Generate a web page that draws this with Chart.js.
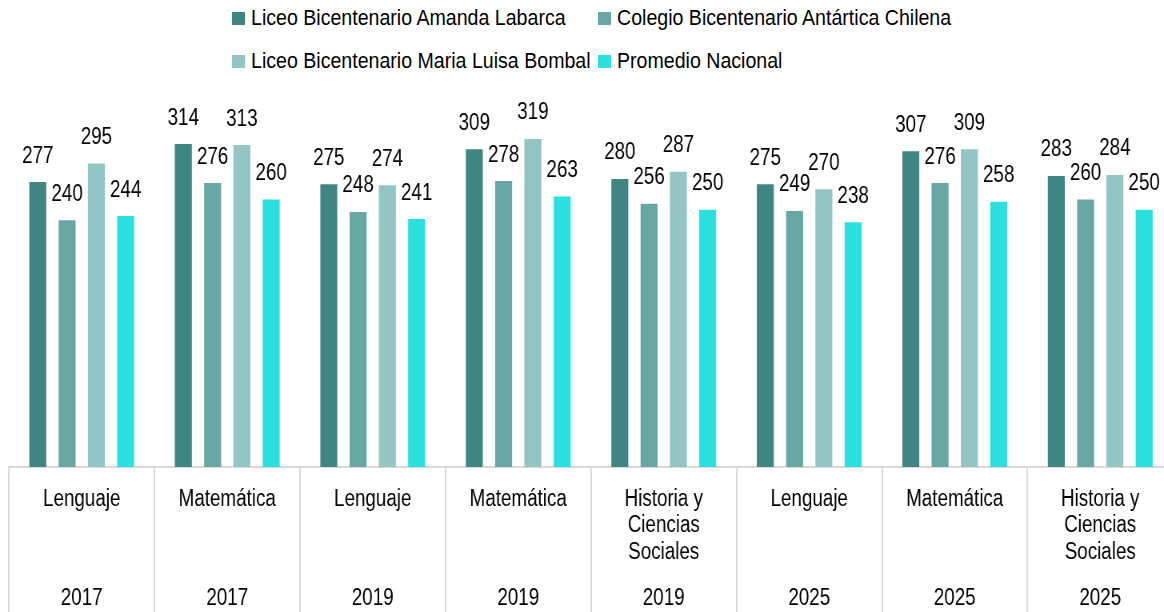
<!DOCTYPE html>
<html>
<head>
<meta charset="utf-8">
<script src="https://cdn.jsdelivr.net/npm/chart.js@4.4.1/dist/chart.umd.min.js"></script>
<style>
  body { margin: 0; background: #fff; overflow: hidden; width: 1164px; height: 612px; position: relative; }
  /* the reference uses a narrow face; squeeze the whole canvas horizontally instead */
  canvas { position: absolute; left: 0; top: 0; transform: scaleX(0.8); transform-origin: 0 0; }
  #legend { position: absolute; left: 232px; top: 0; font-family: 'Liberation Sans', Arial, sans-serif; font-size: 22px; color: #000; }
  .item { position: absolute; white-space: nowrap; display: flex; align-items: center; height: 30px; }
  .box { width: 13px; height: 13px; margin-right: 6px; flex: none; }
  .txt { display: inline-block; transform: scaleX(0.89); transform-origin: 0 50%; }
</style>
</head>
<body>
<div id="legend"></div>
<canvas id="chart" width="1470" height="612"></canvas>
<script>
// Categories (two-level x axis)
const subjects = [
    'Lenguaje',
    'Matemática',
    'Lenguaje',
    'Matemática',
    ['Historia y', 'Ciencias', 'Sociales'],
    'Lenguaje',
    'Matemática',
    ['Historia y', 'Ciencias', 'Sociales']
];
const years = ['2017', '2017', '2019', '2019', '2019', '2025', '2025', '2025'];

// Series
const seriesNames = [
    'Liceo Bicentenario Amanda Labarca',
    'Colegio Bicentenario Antártica Chilena',
    'Liceo Bicentenario Maria Luisa Bombal',
    'Promedio Nacional'
];
const amandaLabarca = [277, 314, 275, 309, 280, 275, 307, 283];
const antarticaChilena = [240, 276, 248, 278, 256, 249, 276, 260];
const mariaLuisaBombal = [295, 313, 274, 319, 287, 270, 309, 284];
const promedioNacional = [244, 260, 241, 263, 250, 238, 258, 250];

const seriesColors = ['#3f8682', '#68a7a4', '#92c5c3', '#2be1df'];

const fontFamily = "'Liberation Sans', Arial, sans-serif";
const fontSize = 23.5;

// Value labels above bars
const valueLabels = {
    id: 'valueLabels',
    afterDatasetsDraw(chart) {
        const ctx = chart.ctx;
        ctx.save();
        ctx.font = fontSize + 'px ' + fontFamily;
        ctx.fillStyle = '#000';
        ctx.textAlign = 'center';
        ctx.textBaseline = 'middle';
        chart.data.datasets.forEach((ds, i) => {
            chart.getDatasetMeta(i).data.forEach((bar, j) => {
                ctx.fillText(ds.data[j], bar.x, bar.y - 26);
            });
        });
        ctx.restore();
    }
};

const allSeries = [amandaLabarca, antarticaChilena, mariaLuisaBombal, promedioNacional];

const chart = new Chart(document.getElementById('chart'), {
    type: 'bar',
    data: {
        labels: subjects,
        datasets: allSeries.map((values, i) => ({
            label: seriesNames[i],
            data: values,
            backgroundColor: seriesColors[i],
            categoryPercentage: 0.805,
            barPercentage: 0.58
        }))
    },
    options: {
        responsive: false,
        animation: false,
        devicePixelRatio: 1,
        layout: { padding: { top: 107, left: 11.25, right: 3.75, bottom: 0 } },
        plugins: {
            legend: { display: false },
            tooltip: { enabled: false }
        },
        scales: {
            y: { display: false, min: 0, max: 350 },
            x: {
                position: 'bottom',
                grid: { offset: true, drawOnChartArea: false, drawTicks: true, tickLength: 150, color: '#d9d9d9', lineWidth: 2 },
                border: { display: true, color: '#d9d9d9', width: 2 },
                ticks: {
                    padding: -131,
                    color: '#000',
                    maxRotation: 0,
                    autoSkip: false,
                    font: { family: fontFamily, size: fontSize, lineHeight: 1.13 }
                },
                afterFit: s => { s.height = 100; }
            },
            x2: {
                type: 'category',
                labels: years,
                position: 'bottom',
                grid: { display: false, drawTicks: false },
                border: { display: false },
                ticks: {
                    padding: 18,
                    color: '#000',
                    maxRotation: 0,
                    autoSkip: false,
                    font: { family: fontFamily, size: fontSize, lineHeight: 1.13 }
                },
                afterFit: s => { s.height = 45; }
            }
        }
    },
    plugins: [valueLabels]
});

// Legend laid out as a 2 x 2 grid
const legendEl = document.getElementById('legend');
const legendPos = [[0, 3], [366, 3], [0, 46], [366, 46]];
seriesNames.forEach((name, i) => {
    const item = document.createElement('div');
    item.className = 'item';
    item.style.left = legendPos[i][0] + 'px';
    item.style.top = legendPos[i][1] + 'px';
    item.innerHTML = '<span class="box" style="background:' + seriesColors[i] + '"></span><span class="txt">' + name + '</span>';
    legendEl.appendChild(item);
});
</script>
</body>
</html>
